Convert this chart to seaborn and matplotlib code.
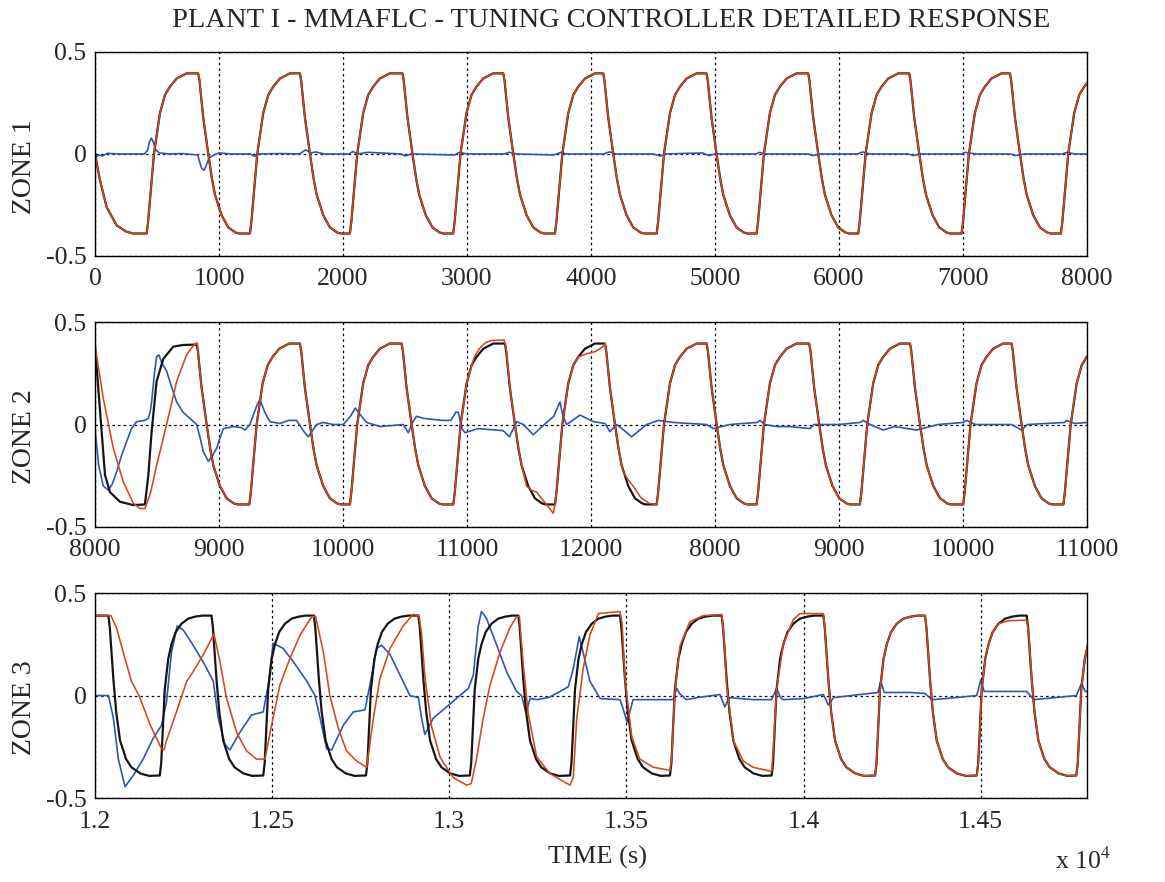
import numpy as np
import pandas as pd
import matplotlib
matplotlib.use("Agg")
import matplotlib.pyplot as plt
import seaborn as sns

# ---------------- data ----------------
# one transition (time after the switch, value); zones 1 and 2 share the time scale
z12_rise_dt = [0, 12, 27, 59, 107, 148, 188, 242, 322]
z12_rise_v = [-0.39, -0.33, -0.225, 0.0, 0.2, 0.29, 0.33, 0.37, 0.395]
z12_fall_dt = [0, 10, 40, 81, 110, 135, 188, 242, 300, 330]
z12_fall_v = [0.395, 0.36, 0.18, 0.0, -0.12, -0.2, -0.3, -0.36, -0.385, -0.39]

z3_rise_dt = [0, 4, 14, 24, 33, 45, 61, 80, 100, 120]
z3_rise_v = [-0.39, -0.33, 0.03, 0.18, 0.25, 0.31, 0.35, 0.375, 0.385, 0.39]
z3_fall_dt = [0, 4, 14, 22, 33, 50, 65, 90, 115]
z3_fall_v = [0.39, 0.33, 0.08, -0.08, -0.22, -0.31, -0.35, -0.38, -0.392]

# ZONE 1 switching instants
z1_rise_t = [417, 1250, 2056, 2889, 3710, 4530, 5336, 6156, 6989, 7790]
z1_fall_t = [833, 1653, 2480, 3293, 4099, 4932, 5752, 6567, 7379]
z1_start = [(0, 0.0), (40, -0.127), (94, -0.26), (175, -0.35), (250, -0.38), (306, -0.39)]
z1_blue = [(0, 0.0), (10, -0.015), (30, -0.005), (60, -0.01), (100, 0.003), (200, 0.0),
           (400, 0.0), (425, 0.02), (440, 0.06), (455, 0.078), (470, 0.06), (490, 0.02),
           (520, 0.005), (600, 0.0), (700, 0.002), (830, -0.005), (840, -0.03), (860, -0.07),
           (880, -0.08), (895, -0.06), (920, -0.02), (960, -0.005), (1000, 0.005), (1100, 0.0),
           (1250, 0.0), (1290, -0.012), (1320, 0.0), (1500, 0.002), (1650, 0.0), (1700, 0.02),
           (1740, 0.005), (1780, 0.01), (1850, 0.0), (2050, 0.0), (2080, 0.012), (2120, 0.0),
           (2200, 0.008), (2470, 0.0), (2500, -0.01), (2550, 0.0), (2900, -0.005), (2940, 0.008),
           (3000, 0.0), (3300, 0.0), (3340, 0.008), (3400, 0.0), (3700, -0.005), (3760, 0.008),
           (3800, 0.0), (4100, 0.0), (4150, 0.01), (4200, 0.0), (4500, 0.0), (4560, -0.01),
           (4600, 0.0), (4900, 0.005), (4950, -0.008), (5000, 0.0), (5330, 0.0), (5360, 0.008),
           (5400, 0.0), (5750, 0.0), (5790, -0.008), (5850, 0.0), (6150, 0.0), (6190, 0.01),
           (6250, 0.0), (6560, 0.0), (6600, -0.008), (6650, 0.0), (6990, 0.0), (7020, 0.008),
           (7100, 0.0), (7380, 0.0), (7420, -0.008), (7500, 0.0), (7800, 0.0), (7840, 0.008),
           (7900, 0.0), (8000, 0.0)]

# ZONE 2
z2_rise_t = [9245, 10056, 10890, 11710, 12530, 13336, 14169, 15002, 15810]
z2_fall_t = [8820, 9653, 10473, 11306, 12113, 12933, 13760, 14573, 15392]
z2_black_start = [(8000, 0.388), (8081, -0.246), (8121, -0.33), (8202, -0.377), (8309, -0.393),
                  (8403, -0.39), (8430, -0.25), (8457, -0.035), (8497, 0.21), (8551, 0.32),
                  (8632, 0.38), (8712, 0.388), (8815, 0.39)]
z2_red_start = [(8000, 0.388), (8067, 0.128), (8148, -0.116), (8228, -0.279), (8309, -0.384),
                (8363, -0.41), (8403, -0.41), (8450, -0.33), (8497, -0.2), (8578, 0.0),
                (8659, 0.21), (8739, 0.34), (8800, 0.39), (8825, 0.396)]
z2_red_mid1 = [(11060, 0.33), (11100, 0.37), (11150, 0.40), (11200, 0.41), (11300, 0.412),
               (11316, 0.37), (11346, 0.18), (11387, 0.0), (11416, -0.12), (11441, -0.2),
               (11481, -0.3), (11520, -0.32), (11562, -0.33), (11600, -0.36), (11642, -0.39),
               (11696, -0.433)]
z2_red_mid2 = [(11900, 0.33), (11965, 0.345), (12030, 0.355), (12073, 0.37), (12105, 0.385)]
z2_red_mid3 = [(12260, -0.23), (12300, -0.27), (12340, -0.30), (12400, -0.355), (12470, -0.385)]
z2_blue = [(8000, -0.02), (8030, -0.2), (8067, -0.3), (8108, -0.32), (8140, -0.29), (8175, -0.23),
           (8215, -0.15), (8255, -0.084), (8295, -0.02), (8336, 0.014), (8400, 0.02), (8430, 0.03),
           (8445, 0.06), (8457, 0.11), (8480, 0.25), (8497, 0.33), (8515, 0.34), (8540, 0.3),
           (8578, 0.26), (8620, 0.18), (8659, 0.11), (8710, 0.06), (8766, 0.03), (8820, 0.0),
           (8850, -0.07), (8873, -0.13), (8914, -0.18), (8950, -0.15), (8981, -0.116),
           (9035, -0.02), (9116, -0.01), (9180, -0.015), (9210, -0.027), (9250, 0.0),
           (9277, 0.046), (9310, 0.1), (9331, 0.12), (9370, 0.06), (9411, 0.014), (9492, 0.005),
           (9560, 0.02), (9626, 0.02), (9680, -0.03), (9720, -0.06), (9788, 0.0), (9841, 0.01),
           (9920, 0.0), (10003, 0.0), (10060, 0.04), (10100, 0.08), (10150, 0.04), (10191, 0.01),
           (10298, -0.01), (10400, -0.005), (10486, 0.0), (10527, -0.04), (10560, 0.01),
           (10594, 0.04), (10650, 0.03), (10800, 0.02), (10870, 0.02), (10910, 0.06),
           (10930, 0.06), (10960, -0.02), (10984, -0.04), (11091, -0.02), (11293, -0.03),
           (11342, -0.06), (11401, 0.014), (11455, 0.0), (11535, -0.05), (11642, 0.01),
           (11700, 0.04), (11750, 0.11), (11775, 0.04), (11804, 0.0), (11912, 0.046),
           (12019, 0.014), (12113, 0.005), (12153, -0.035), (12207, 0.0), (12270, -0.03),
           (12328, -0.06), (12449, 0.0), (12543, 0.02), (12664, 0.01), (12933, 0.0),
           (12987, -0.02), (13121, 0.0), (13340, 0.01), (13363, 0.02), (13400, 0.0),
           (13500, -0.01), (13605, -0.01), (13766, -0.02), (13800, 0.0), (14000, 0.0),
           (14169, 0.01), (14196, 0.02), (14250, 0.0), (14357, -0.027), (14450, -0.01),
           (14626, -0.027), (14800, 0.0), (15002, 0.01), (15030, 0.02), (15100, 0.0),
           (15392, 0.0), (15473, -0.027), (15520, 0.0), (15820, 0.01), (15836, 0.02),
           (15900, 0.005), (16000, 0.01)]
z2_labels = ["8000", "9000", "10000", "11000", "12000", "8000", "9000", "10000", "11000"]

# ZONE 3
z3_rise_t = [12183, 12475, 12765, 13058, 13341, 13623, 13910, 14202, 14489, 14770]
z3_fall_t = [12038, 12329, 12618, 12913, 13195, 13482, 13769, 14056, 14343, 14630]
z3_black_start = [(12000, 0.39)]
z3_red_start = [(12000, 0.39), (12045, 0.39), (12061, 0.33), (12080, 0.21), (12103, 0.07),
                (12127, -0.01), (12155, -0.14), (12188, -0.26), (12195, -0.265), (12201, -0.225),
                (12230, -0.08), (12259, 0.07), (12277, 0.116), (12306, 0.2), (12336, 0.30),
                (12353, 0.165), (12371, -0.01), (12400, -0.18), (12428, -0.27), (12456, -0.31),
                (12480, -0.31), (12499, -0.14), (12522, 0.05), (12550, 0.18), (12579, 0.295),
                (12612, 0.385), (12623, 0.385), (12645, 0.21), (12663, 0.0), (12687, -0.16),
                (12710, -0.27), (12739, -0.32), (12767, -0.35), (12786, -0.11), (12804, 0.08),
                (12833, 0.23), (12870, 0.34), (12898, 0.396), (12915, 0.39), (12922, 0.3),
                (12932, 0.08), (12950, -0.15), (12974, -0.3), (13011, -0.40), (13049, -0.437),
                (13062, -0.43), (13077, -0.31), (13096, -0.11), (13115, 0.05), (13143, 0.21),
                (13171, 0.33), (13190, 0.385), (13198, 0.385), (13209, 0.15), (13223, -0.09),
                (13247, -0.3), (13284, -0.38), (13313, -0.41), (13341, -0.437), (13350, -0.4),
                (13360, -0.11), (13378, 0.13), (13397, 0.295), (13421, 0.40), (13482, 0.41),
                (13488, 0.35), (13496, 0.08), (13515, -0.2), (13538, -0.31), (13576, -0.35),
                (13623, -0.365), (13628, -0.3), (13636, 0.0), (13651, 0.24), (13679, 0.36),
                (13717, 0.39), (13769, 0.395), (13775, 0.3), (13783, 0.05), (13802, -0.22),
                (13830, -0.32), (13858, -0.35), (13910, -0.37), (13915, -0.25), (13924, 0.03),
                (13943, 0.25), (13971, 0.37), (13990, 0.40), (14056, 0.40)]
z3_red_mid = [(14550, 0.35), (14578, 0.365), (14630, 0.368), (14636, 0.30)]
z3_blue = [(12000, 0.0), (12038, 0.0), (12052, -0.11), (12066, -0.31), (12085, -0.445),
           (12108, -0.39), (12136, -0.31), (12164, -0.21), (12188, -0.145), (12202, -0.03),
           (12216, 0.21), (12232, 0.34), (12249, 0.32), (12277, 0.246), (12310, 0.15),
           (12334, 0.07), (12348, -0.11), (12367, -0.24), (12381, -0.265), (12409, -0.18),
           (12442, -0.095), (12475, -0.08), (12489, 0.05), (12503, 0.255), (12531, 0.23),
           (12560, 0.165), (12598, 0.07), (12621, 0.0), (12640, -0.145), (12654, -0.26),
           (12668, -0.265), (12701, -0.145), (12729, -0.08), (12762, -0.07), (12776, 0.05),
           (12795, 0.23), (12809, 0.246), (12833, 0.2), (12861, 0.1), (12889, 0.0),
           (12913, -0.01), (12922, -0.11), (12931, -0.19), (12955, -0.11), (12993, -0.055),
           (13030, 0.0), (13054, 0.035), (13068, 0.1), (13082, 0.34), (13091, 0.41),
           (13105, 0.377), (13134, 0.246), (13162, 0.116), (13190, 0.02), (13204, 0.0),
           (13217, -0.087), (13228, -0.014), (13247, -0.02), (13280, -0.01), (13313, 0.02),
           (13336, 0.043), (13350, 0.13), (13367, 0.287), (13378, 0.21), (13397, 0.07),
           (13426, -0.015), (13482, -0.02), (13490, -0.06), (13502, -0.13), (13519, -0.02),
           (13576, -0.02), (13632, -0.02), (13642, 0.035), (13650, 0.01), (13670, -0.02),
           (13700, -0.01), (13764, 0.005), (13778, -0.055), (13790, -0.01), (13858, -0.02),
           (13910, -0.02), (13924, 0.035), (13935, -0.01), (13943, -0.02), (14000, -0.015),
           (14056, 0.005), (14070, -0.046), (14085, -0.01), (14159, 0.005), (14210, 0.015),
           (14218, 0.07), (14228, 0.015), (14300, 0.015), (14343, 0.01), (14362, -0.02),
           (14400, -0.015), (14489, 0.0), (14500, 0.075), (14510, 0.02), (14600, 0.02),
           (14630, 0.02), (14650, -0.02), (14680, -0.015), (14770, 0.0), (14785, 0.06),
           (14795, 0.02), (14800, 0.02)]
z3_labels = ["1.2", "1.25", "1.3", "1.35", "1.4", "1.45"]


def trace(rise_t, fall_t, rise, fall, pieces=()):
    # place the read transition shape at each switch, then splice in the hand-read stretches
    pts = [(t0 + d, v) for t0 in rise_t for d, v in zip(*rise)]
    pts += [(t0 + d, v) for t0 in fall_t for d, v in zip(*fall)]
    for piece in pieces:
        lo, hi = piece[0][0], piece[-1][0]
        pts = [p for p in pts if not lo <= p[0] <= hi] + list(piece)
    pts.sort()
    return pd.DataFrame(pts, columns=["t", "v"])


def pts(p):
    return pd.DataFrame(p, columns=["t", "v"])


rise12 = (z12_rise_dt, z12_rise_v)
fall12 = (z12_fall_dt, z12_fall_v)
rise3 = (z3_rise_dt, z3_rise_v)
fall3 = (z3_fall_dt, z3_fall_v)

panels = [
    dict(black=trace(z1_rise_t, z1_fall_t, rise12, fall12, [z1_start]),
         red=trace(z1_rise_t, z1_fall_t, rise12, fall12, [z1_start]),
         blue=pts(z1_blue), xlim=(0, 8000), ticks=list(range(0, 8001, 1000)),
         labels=[str(t) for t in range(0, 8001, 1000)], name="ZONE 1"),
    dict(black=trace(z2_rise_t, z2_fall_t, rise12, fall12, [z2_black_start]),
         red=trace(z2_rise_t, z2_fall_t, rise12, fall12,
                   [z2_red_start, z2_red_mid1, z2_red_mid2, z2_red_mid3]),
         blue=pts(z2_blue), xlim=(8000, 16000), ticks=list(range(8000, 16001, 1000)),
         labels=z2_labels, name="ZONE 2"),
    dict(black=trace(z3_rise_t, z3_fall_t, rise3, fall3, [z3_black_start]),
         red=trace(z3_rise_t, z3_fall_t, rise3, fall3, [z3_red_start, z3_red_mid]),
         blue=pts(z3_blue), xlim=(12000, 14800), ticks=list(range(12000, 14501, 500)),
         labels=z3_labels, name="ZONE 3"),
]

# ---------------- drawing ----------------
sns.set_style("white")
plt.rcParams["font.family"] = ["Liberation Serif", "DejaVu Serif"]
plt.rcParams["mathtext.fontset"] = "stix"

fig = plt.figure(figsize=(11.65, 8.82), dpi=100)
boxes = [(0.0815, 0.7098, 0.8515, 0.2313),
         (0.0815, 0.4025, 0.8515, 0.2324),
         (0.0815, 0.0952, 0.8515, 0.2324)]

for box, p in zip(boxes, panels):
    ax = fig.add_axes(box)
    sns.lineplot(data=p["blue"], x="t", y="v", ax=ax, color="#2f55b5", lw=1.2,
                 estimator=None, sort=False, legend=False)
    sns.lineplot(data=p["black"], x="t", y="v", ax=ax, color="#151515", lw=1.6,
                 estimator=None, sort=False, legend=False)
    sns.lineplot(data=p["red"], x="t", y="v", ax=ax, color="#d6461d", lw=1.15,
                 estimator=None, sort=False, legend=False)
    ax.set_xlim(*p["xlim"])
    ax.set_ylim(-0.5, 0.5)
    ax.set_xticks(p["ticks"])
    ax.set_xticklabels(p["labels"])
    ax.set_yticks([-0.5, 0, 0.5])
    ax.set_yticklabels(["-0.5", "0", "0.5"])
    ax.grid(True, color="black", linestyle=(0, (2, 2.5)), linewidth=0.9)
    ax.tick_params(direction="in", length=5, labelsize=18.5, pad=6, color="black")
    ax.tick_params(axis="x", pad=9)
    for s in ax.spines.values():
        s.set_color("black")
        s.set_linewidth(1.0)
    ax.set_xlabel("")
    ax.set_ylabel(p["name"], fontsize=20)
    ax.yaxis.set_label_coords(-0.058, 0.44)

fig.text(0.5245, 0.977, "PLANT I - MMAFLC - TUNING CONTROLLER DETAILED RESPONSE",
         ha="center", va="center", fontsize=20.5)
fig.text(0.513, 0.028, "TIME (s)", ha="center", va="center", fontsize=19)
fig.text(0.906, 0.024, r"x 10$^{4}$", ha="left", va="center", fontsize=18.5)

fig.savefig("out.png", dpi=100)
